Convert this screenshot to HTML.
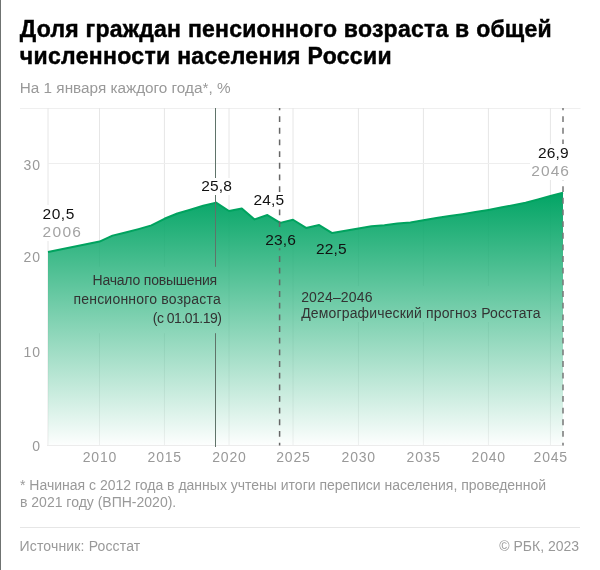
<!DOCTYPE html>
<html lang="ru"><head><meta charset="utf-8"><title>Доля граждан пенсионного возраста</title>
<style>
html,body{margin:0;padding:0;background:#fff;}
body{width:600px;height:570px;position:relative;overflow:hidden;font-family:"Liberation Sans",Arial,sans-serif;}
.lb{position:absolute;left:0;top:0;width:1px;height:570px;background:#6f7371;}
.t{position:absolute;white-space:nowrap;}
h1{position:absolute;left:19.8px;top:15.7px;margin:0;font-size:23px;line-height:27.2px;font-weight:700;color:#000;letter-spacing:0.3px;-webkit-text-stroke:0.45px #000;}
.sub{left:19.8px;top:79.2px;font-size:15.3px;line-height:18px;color:#999;}
svg{position:absolute;left:0;top:0;}
.yl{font-size:14px;color:#999;line-height:16px;text-align:right;width:30px;left:11px;letter-spacing:1px;}
.xl{font-size:14px;color:#999;line-height:16px;text-align:center;width:50px;letter-spacing:0.8px;top:448.9px;}
.v{font-size:15.5px;line-height:16.2px;color:#111;letter-spacing:0.15px;}
.vb{background:#fff;}
.g{color:#a3a3a3;letter-spacing:1.3px;}
.ann{font-size:14px;color:#333;}
.foot{font-size:14px;color:#999;left:20px;line-height:17.05px;top:477.1px;}
.src{font-size:14px;color:#999;line-height:16px;top:537.8px;}
</style></head><body>
<div id="root" style="position:absolute;left:0;top:0;width:600px;height:570px;will-change:transform;background:#fff">
<div class="lb"></div>
<h1><span style="letter-spacing:0.24px">Доля граждан пенсионного возраста в общей</span><br><span style="letter-spacing:0.32px">численности населения России</span></h1>
<div class="t sub">На 1 января каждого года*, %</div>
<svg width="600" height="570" viewBox="0 0 600 570">
<defs><linearGradient id="gr" x1="0" y1="192" x2="0" y2="445" gradientUnits="userSpaceOnUse">
<stop offset="0" stop-color="#01a464"/><stop offset="1" stop-color="#01a464" stop-opacity="0.01"/></linearGradient>
<clipPath id="ac"><path d="M48.00,252.10 L99.50,241.60 L112.48,235.60 L125.46,232.50 L138.44,229.10 L151.42,225.40 L164.40,218.80 L177.32,213.50 L190.24,209.75 L203.16,205.75 L216.08,202.60 L229.00,211.00 L241.80,208.50 L254.60,219.40 L267.40,215.05 L280.20,222.90 L293.00,219.75 L306.08,227.90 L319.16,225.10 L332.24,233.10 L345.32,230.75 L358.40,228.60 L371.40,226.20 L384.40,225.20 L397.40,223.50 L410.40,222.40 L423.40,220.20 L436.40,218.10 L449.40,216.10 L462.40,214.20 L475.40,212.10 L488.40,209.90 L500.80,207.60 L513.20,205.20 L525.60,202.80 L538.00,199.40 L550.40,196.00 L563.00,192.70 L563.00,445.0 L48.00,445.0 Z"/></clipPath>
<mask id="m1" maskUnits="userSpaceOnUse" x="0" y="0" width="600" height="570"><rect width="600" height="570" fill="#fff"/><rect x="200" y="266.8" width="30" height="66.4" fill="#000"/><rect x="262" y="228" width="30" height="20.2" fill="#000"/></mask>
<mask id="mo" maskUnits="userSpaceOnUse" x="0" y="0" width="600" height="570"><rect width="600" height="570" fill="#fff"/><path d="M48.00,252.10 L99.50,241.60 L112.48,235.60 L125.46,232.50 L138.44,229.10 L151.42,225.40 L164.40,218.80 L177.32,213.50 L190.24,209.75 L203.16,205.75 L216.08,202.60 L229.00,211.00 L241.80,208.50 L254.60,219.40 L267.40,215.05 L280.20,222.90 L293.00,219.75 L306.08,227.90 L319.16,225.10 L332.24,233.10 L345.32,230.75 L358.40,228.60 L371.40,226.20 L384.40,225.20 L397.40,223.50 L410.40,222.40 L423.40,220.20 L436.40,218.10 L449.40,216.10 L462.40,214.20 L475.40,212.10 L488.40,209.90 L500.80,207.60 L513.20,205.20 L525.60,202.80 L538.00,199.40 L550.40,196.00 L563.00,192.70 L563.00,445.0 L48.00,445.0 Z" fill="#000"/></mask>
<mask id="m2" maskUnits="userSpaceOnUse" x="0" y="0" width="600" height="570"><rect width="600" height="570" fill="#fff"/><rect x="70" y="266.8" width="152" height="66.4" fill="#000"/><rect x="298" y="286" width="246" height="36" fill="#000"/></mask></defs>
<line x1="20" y1="108.5" x2="580.5" y2="108.5" stroke="#efefef" stroke-width="1"/>
<g mask="url(#m2)"><g stroke="#e6e6e6" stroke-width="1" mask="url(#mo)"><line x1="48.0" y1="108" x2="48.0" y2="445" /><line x1="99.5" y1="108" x2="99.5" y2="445" /><line x1="164.4" y1="108" x2="164.4" y2="445" /><line x1="229.0" y1="108" x2="229.0" y2="445" /><line x1="293.0" y1="108" x2="293.0" y2="445" /><line x1="358.4" y1="108" x2="358.4" y2="445" /><line x1="423.4" y1="108" x2="423.4" y2="445" /><line x1="488.4" y1="108" x2="488.4" y2="445" /><line x1="550.4" y1="108" x2="550.4" y2="445" /></g><g stroke="#f0f0f0" stroke-width="1" clip-path="url(#ac)"><line x1="48.0" y1="108" x2="48.0" y2="445" /><line x1="99.5" y1="108" x2="99.5" y2="445" /><line x1="164.4" y1="108" x2="164.4" y2="445" /><line x1="229.0" y1="108" x2="229.0" y2="445" /><line x1="293.0" y1="108" x2="293.0" y2="445" /><line x1="358.4" y1="108" x2="358.4" y2="445" /><line x1="423.4" y1="108" x2="423.4" y2="445" /><line x1="488.4" y1="108" x2="488.4" y2="445" /><line x1="550.4" y1="108" x2="550.4" y2="445" /></g><g stroke="#eeeeee" stroke-width="1"><line x1="48" y1="163.5" x2="563" y2="163.5" /></g></g>
<path d="M48.00,252.10 L99.50,241.60 L112.48,235.60 L125.46,232.50 L138.44,229.10 L151.42,225.40 L164.40,218.80 L177.32,213.50 L190.24,209.75 L203.16,205.75 L216.08,202.60 L229.00,211.00 L241.80,208.50 L254.60,219.40 L267.40,215.05 L280.20,222.90 L293.00,219.75 L306.08,227.90 L319.16,225.10 L332.24,233.10 L345.32,230.75 L358.40,228.60 L371.40,226.20 L384.40,225.20 L397.40,223.50 L410.40,222.40 L423.40,220.20 L436.40,218.10 L449.40,216.10 L462.40,214.20 L475.40,212.10 L488.40,209.90 L500.80,207.60 L513.20,205.20 L525.60,202.80 L538.00,199.40 L550.40,196.00 L563.00,192.70 L563.00,445.0 L48.00,445.0 Z" fill="url(#gr)"/>
<line x1="47" y1="445.5" x2="564" y2="445.5" stroke="#ececec" stroke-width="1"/>
<path d="M48.00,252.10 L99.50,241.60 L112.48,235.60 L125.46,232.50 L138.44,229.10 L151.42,225.40 L164.40,218.80 L177.32,213.50 L190.24,209.75 L203.16,205.75 L216.08,202.60 L229.00,211.00 L241.80,208.50 L254.60,219.40 L267.40,215.05 L280.20,222.90 L293.00,219.75 L306.08,227.90 L319.16,225.10 L332.24,233.10 L345.32,230.75 L358.40,228.60 L371.40,226.20 L384.40,225.20 L397.40,223.50 L410.40,222.40 L423.40,220.20 L436.40,218.10 L449.40,216.10 L462.40,214.20 L475.40,212.10 L488.40,209.90 L500.80,207.60 L513.20,205.20 L525.60,202.80 L538.00,199.40 L550.40,196.00 L563.00,192.70" fill="none" stroke="#00a35f" stroke-width="2" stroke-linejoin="round"/>
<line x1="20" y1="527.5" x2="580" y2="527.5" stroke="#e6e6e6" stroke-width="1"/>
<line x1="215.5" y1="108" x2="215.5" y2="447" stroke="#5f7369" stroke-width="1" mask="url(#m1)"/>
<line x1="279.6" y1="108" x2="279.6" y2="445.5" stroke="#666" stroke-width="1.5" stroke-dasharray="5.83 5.83" stroke-dashoffset="3.46" mask="url(#m1)"/>
<line x1="563" y1="108" x2="563" y2="445.5" stroke="#777" stroke-width="1.5" stroke-dasharray="5.83 5.83" stroke-dashoffset="3.46"/>
</svg>
<div class="t yl" style="top:157.25px">30</div>
<div class="t yl" style="top:249.45px">20</div>
<div class="t yl" style="top:343.75px">10</div>
<div class="t yl" style="top:437.75px">0</div>
<div class="t xl" style="left:74.90px">2010</div>
<div class="t xl" style="left:139.80px">2015</div>
<div class="t xl" style="left:204.40px">2020</div>
<div class="t xl" style="left:268.40px">2025</div>
<div class="t xl" style="left:333.80px">2030</div>
<div class="t xl" style="left:398.80px">2035</div>
<div class="t xl" style="left:463.80px">2040</div>
<div class="t xl" style="left:525.80px">2045</div>
<div class="t v vb" style="left:42.6px;top:204.6px;line-height:18.1px;padding-right:2px"><span style="letter-spacing:0.5px">20,5</span><br><span class="g">2006</span></div>
<div class="t v vb" style="left:196.55px;top:178.33px;width:40px;text-align:center">25,8</div>
<div class="t v vb" style="left:248.85px;top:191.93px;width:40px;text-align:center">24,5</div>
<div class="t v" style="left:260.60px;top:232.23px;width:40px;text-align:center">23,6</div>
<div class="t v" style="left:311.40px;top:240.53px;width:40px;text-align:center">22,5</div>
<div class="t v vb" style="right:30.3px;top:143.8px;line-height:18.1px;text-align:right;padding-left:1.5px;padding-right:1px">26,9<br><span class="g" style="letter-spacing:1.05px;margin-right:-1.3px">2046</span></div>
<div class="t ann" style="right:379px;top:271px;line-height:19.2px;text-align:right"><span style="padding-right:4px;letter-spacing:-0.2px">Начало повышения</span><br><span style="letter-spacing:0.21px">пенсионного возраста</span><br><span style="letter-spacing:-0.5px;margin-right:-0.5px">(с 01.01.19)</span></div>
<div class="t ann" style="left:301.2px;top:288.8px;line-height:16.4px;letter-spacing:0.15px">2024–2046<br>Демографический прогноз Росстата</div>
<div class="t foot">* Начиная с 2012 года в данных учтены итоги переписи населения, проведенной<br>в 2021 году (ВПН-2020).</div>
<div class="t src" style="left:19.6px;letter-spacing:0.15px">Источник: Росстат</div>
<div class="t src" style="right:20.9px">© РБК, 2023</div>
</div>
</body></html>
